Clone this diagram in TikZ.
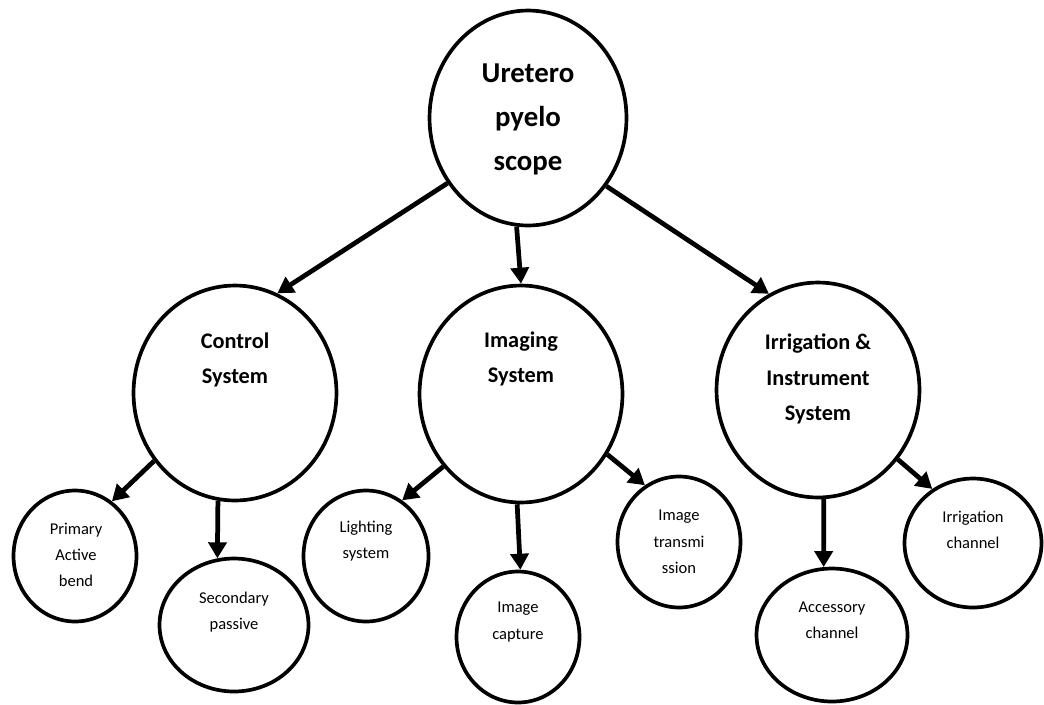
\documentclass[tikz,border=0pt]{standalone}
\usepackage{fontspec}
\setmainfont{Carlito}
\usetikzlibrary{arrows.meta, shapes.geometric}
\tikzset{ x=0.02cm, y=-0.02cm, >={Triangle[length=0.32cm, width=0.36cm]},
  bub/.style 2 args={draw, ellipse, line width=2.1pt, inner sep=0pt, minimum width=#1cm, minimum height=#2cm},
  arr/.style={->, line width=2.7pt},
  toptxt/.style={align=center, inner sep=0pt, font=\fontsize{16.4}{25}\selectfont\bfseries},
  midtxt/.style={align=center, inner sep=0pt, font=\fontsize{12.7}{20}\selectfont\bfseries},
  smalltxt/.style={align=center, inner sep=0pt, font=\fontsize{9.4}{15}\selectfont} }

\begin{document}
\begin{tikzpicture}
\useasboundingbox (0,0) rectangle (1044,704);
\node[bub={3.94}{4.30}] (uret) at (528,118) {};
\node[bub={4.06}{4.30}] (ctrl) at (235,393) {};
\node[bub={4.06}{4.34}] (imag) at (521,394) {};
\node[bub={4.06}{4.30}] (irri) at (818,390) {};
\node[bub={2.46}{2.62}] (prim) at (75,556) {};
\node[bub={2.98}{2.66}] (seco) at (234,625) {};
\node[bub={2.50}{2.62}] (ligh) at (366,556) {};
\node[bub={2.46}{2.62}] (capt) at (518,637) {};
\node[bub={2.46}{2.62}] (tran) at (679,542) {};
\node[bub={3.02}{2.66}] (acce) at (832,635) {};
\node[bub={2.74}{2.58}] (irch) at (973,543) {};
\node[toptxt] (uret-t) at (528,119) {Uretero\\pyelo\\scope};
\node[midtxt] (ctrl-t) at (235,360) {Control\\System};
\node[midtxt] (imag-t) at (521,359) {Imaging\\System};
\node[midtxt] (irri-t) at (818,379) {Irrigation \&\\Instrument\\System};
\node[smalltxt] (prim-t) at (76,555) {Primary\\Active\\bend};
\node[smalltxt] (seco-t) at (234,612) {Secondary\\passive};
\node[smalltxt] (ligh-t) at (366,541) {Lighting\\system};
\node[smalltxt] (capt-t) at (518,622) {Image\\capture};
\node[smalltxt] (tran-t) at (679,542) {Image\\transmi\\ssion};
\node[smalltxt] (acce-t) at (832,620) {Accessory\\channel};
\node[smalltxt] (irch-t) at (973,530) {Irrigation\\channel};
\draw[arr] (uret.219) -- (ctrl.67);
\draw[arr] (uret.264) -- (imag.90);
\draw[arr] (uret.319) -- (irri.117);
\draw[arr] (ctrl.220) -- (prim.56);
\draw[arr] (ctrl.261) -- (seco.104);
\draw[arr] (imag.223) -- (ligh.57);
\draw[arr] (imag.268) -- (capt.88);
\draw[arr] (imag.325) -- (tran.121);
\draw[arr] (irri.273) -- (acce.97);
\draw[arr] (irri.319) -- (irch.127);
\end{tikzpicture}
\end{document}
